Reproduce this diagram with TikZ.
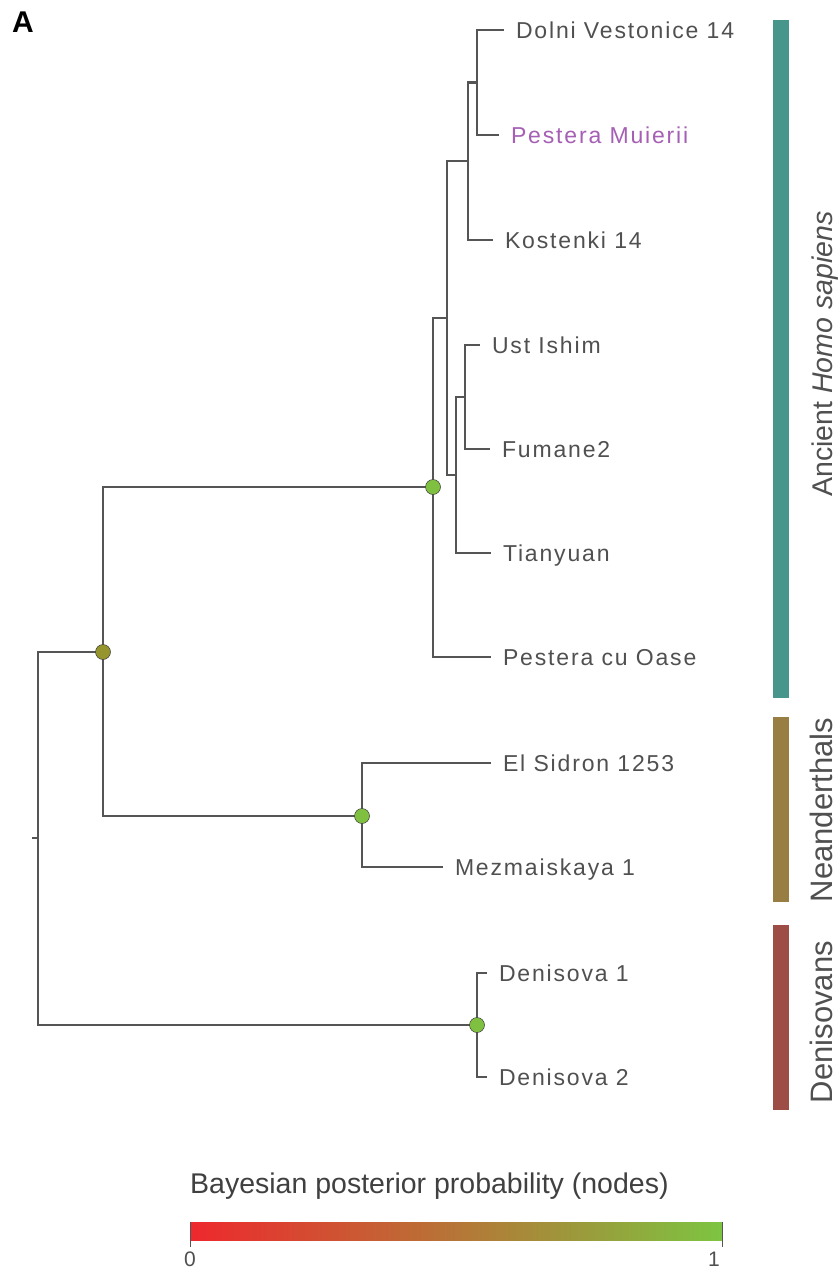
\documentclass[tikz,border=0pt]{standalone}
\usepackage{fontspec}
\setmainfont{Liberation Sans}
\newfontfamily\tipfont[LetterSpace=8]{Liberation Sans}
\usepackage{tikz}
\definecolor{branchgrey}{RGB}{85,85,85}
\definecolor{labelgrey}{RGB}{80,80,80}
\definecolor{muieriipurple}{RGB}{165,95,180}
\definecolor{postgreen}{RGB}{128,192,64}
\definecolor{postolive}{RGB}{150,148,45}
\definecolor{sapiensteal}{RGB}{70,150,140}
\definecolor{neanbrown}{RGB}{152,126,66}
\definecolor{denired}{RGB}{157,76,70}
\definecolor{barred}{RGB}{238,40,45}
\definecolor{barmid}{RGB}{202,128,45}
\definecolor{bargreen}{RGB}{125,196,65}
\tikzset{
  branch/.style={draw=branchgrey, line width=2.1pt},
  leaf/.style={anchor=west, inner sep=0pt, outer sep=12pt, text=labelgrey,
    font=\tipfont\fontsize{23}{26}\selectfont, text height=16.5pt, text depth=0pt},
  postdot/.style={circle, draw=branchgrey!70!black, line width=0.5pt,
    minimum size=15pt, inner sep=0pt},
  cladename/.style={rotate=90, anchor=base, inner sep=0pt, text=labelgrey,
    font=\fontsize{31}{34}\selectfont}
}

\begin{document}
\begin{tikzpicture}[x=1pt, y=-1pt]
                \fill[white] (0,0) rectangle (838,1274);
                \useasboundingbox (0,0) rectangle (838,1274);
                \node[anchor=north west, inner sep=0pt, font=\bfseries\fontsize{30}{32}\selectfont] (panel) at (12,12) {A};

                \coordinate (root) at (38,838);
                \coordinate (stub) at (32,838);
                \coordinate (nHN) at (103,652);
                \coordinate (nHS) at (433,487);
                \coordinate (nEU) at (447,318);
                \coordinate (nK) at (468,161);
                \coordinate (nDM) at (477,82.5);
                \coordinate (nT) at (456,475);
                \coordinate (nUF) at (465,397);
                \coordinate (nNe) at (362,816);
                \coordinate (nDe) at (477,1025);

                \node[leaf] (dv) at (504,30) {Dolni Vestonice 14};
                \node[leaf, text=muieriipurple] (pm) at (499,135) {Pestera Muierii};
                \node[leaf] (k14) at (493,240) {Kostenki 14};
                \node[leaf] (ui) at (480,345) {Ust Ishim};
                \node[leaf] (fum) at (490,449) {Fumane2};
                \node[leaf] (tian) at (491,553) {Tianyuan};
                \node[leaf] (oase) at (491,657) {Pestera cu Oase};
                \node[leaf] (sid) at (491,763) {El Sidron 1253};
                \node[leaf] (mez) at (443,867) {Mezmaiskaya 1};
                \node[leaf] (den1) at (487,973) {Denisova 1};
                \node[leaf] (den2) at (487,1077) {Denisova 2};

                \draw[branch] (stub) -- (root);
                \draw[branch] (root) |- (nHN);
                \draw[branch] (root) |- (nDe);
                \draw[branch] (nHN) |- (nHS);
                \draw[branch] (nHN) |- (nNe);
                \draw[branch] (nHS) |- (nEU);
                \draw[branch] (nHS) |- (oase.west);
                \draw[branch] (nEU) |- (nK);
                \draw[branch] (nEU) |- (nT);
                \draw[branch] (nK) |- (nDM);
                \draw[branch] (nK) |- (k14.west);
                \draw[branch] (nDM) |- (dv.west);
                \draw[branch] (nDM) |- (pm.west);
                \draw[branch] (nT) |- (nUF);
                \draw[branch] (nT) |- (tian.west);
                \draw[branch] (nUF) |- (ui.west);
                \draw[branch] (nUF) |- (fum.west);
                \draw[branch] (nNe) |- (sid.west);
                \draw[branch] (nNe) |- (mez.west);
                \draw[branch] (nDe) |- (den1.west);
                \draw[branch] (nDe) |- (den2.west);

                \node[postdot, fill=postolive] (dHN) at (nHN) {};
                \node[postdot, fill=postgreen] (dHS) at (nHS) {};
                \node[postdot, fill=postgreen] (dNe) at (nNe) {};
                \node[postdot, fill=postgreen] (dDe) at (nDe) {};

                \fill[sapiensteal] (773,20) rectangle (789,698);
                \fill[neanbrown] (773,717) rectangle (789,902);
                \fill[denired] (773,925) rectangle (789,1110);
                \node[cladename, font=\fontsize{28.5}{31}\selectfont] (sapiens) at (832,354) {Ancient \textit{Homo sapiens}};
                \node[cladename] (nean) at (832,810) {Neanderthals};
                \node[cladename] (deni) at (832,1022) {Denisovans};

                \node[anchor=base west, inner sep=0pt, text=labelgrey!80!black, font=\fontsize{28.5}{30}\selectfont] (scaletitle) at (190,1193) {Bayesian posterior probability (nodes)};
                \coordinate (barL) at (190,1222);
                \coordinate (barR) at (722,1240);
                \shade[left color=barred, middle color=barmid, right color=bargreen] (barL) rectangle (barR);
                \draw[branchgrey, line width=0.8pt] (barL) -- ++(0,25);
                \draw[branchgrey, line width=0.8pt] (barR) -- ++(0,7);
                \draw[branchgrey, line width=0.8pt] (barR) -- ++(0,-18);
                \node[anchor=base, inner sep=0pt, text=labelgrey, font=\fontsize{21}{23}\selectfont] (zero) at (190,1266) {0};
                \node[anchor=base, inner sep=0pt, text=labelgrey, font=\fontsize{21}{23}\selectfont] (one) at (714,1266) {1};
            \end{tikzpicture}
\end{document}
